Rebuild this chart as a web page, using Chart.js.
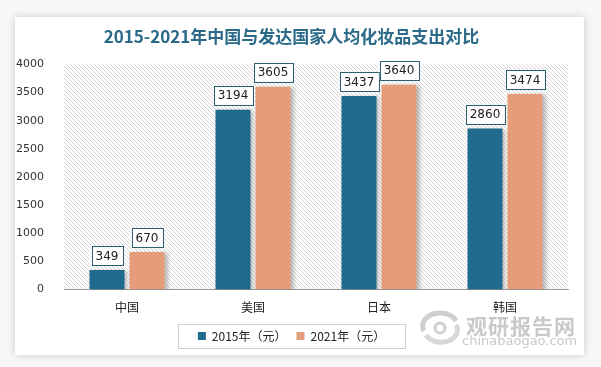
<!DOCTYPE html>
<html>
<head>
<meta charset="utf-8">
<script src="https://cdn.jsdelivr.net/npm/chart.js@4/dist/chart.umd.min.js"></script>
<style>
    html, body { margin: 0; padding: 0; background: #f7f7f7; }
    body { width: 601px; height: 367px; position: relative; overflow: hidden; }
    #card {
        position: absolute; left: 15px; top: 17px; width: 569px; height: 338px;
        background: #fff; box-shadow: 0 0 8px rgba(0,0,0,0.18);
    }
    #chart { display: block; }
    .wm { position: absolute; color: #c9c9c9; font-family: 'Noto Sans CJK SC', sans-serif; }
</style>
</head>
<body>
<div id="card"><canvas id="chart" width="569" height="338"></canvas></div>
<svg class="wm" style="left:418px;top:309px;" width="44" height="36" viewBox="0 0 44 36">
    <path d="M6 22 A16 12 0 0 1 38 12" stroke="#cfcfcf" stroke-width="5" fill="none"/>
    <path d="M38 16 A16 12 0 0 1 8 26" stroke="#d8d8d8" stroke-width="5" fill="none"/>
    <circle cx="22" cy="19" r="5" stroke="#cfcfcf" stroke-width="3" fill="none"/>
</svg>
<div class="wm" style="left:466px;top:310px;font-size:21px;font-weight:bold;letter-spacing:1px;">观研报告网</div>
<div class="wm" style="left:462px;top:333px;font-size:13px;font-family:'DejaVu Sans',sans-serif;">chinabaogao.com</div>
<script>
// 数据
const categories = ['中国', '美国', '日本', '韩国'];
const values2015 = [349, 3194, 3437, 2860];
const values2021 = [670, 3605, 3640, 3474];
const seriesNames = ['2015年（元）', '2021年（元）'];

const colors = ['#1f6a8d', '#e59c7a'];

// 斜线背景
function makeHatch() {
    const c = document.createElement('canvas');
    c.width = 4; c.height = 4;
    const g = c.getContext('2d');
    g.fillStyle = '#fff';
    g.fillRect(0, 0, 4, 4);
    g.strokeStyle = '#d6d6d6';
    g.lineWidth = 1;
    g.beginPath();
    g.moveTo(0, 0); g.lineTo(4, 4);
    g.moveTo(-1, 3); g.lineTo(1, 5);
    g.moveTo(3, -1); g.lineTo(5, 1);
    g.stroke();
    return g.createPattern(c, 'repeat');
}

const hatchBg = {
    id: 'hatchBg',
    beforeDraw(chart) {
        const { ctx, chartArea: a } = chart;
        ctx.save();
        ctx.fillStyle = makeHatch();
        ctx.fillRect(a.left, a.top, a.right - a.left, a.bottom - a.top);
        ctx.restore();
    }
};

// 柱子阴影
const barShadow = {
    id: 'barShadow',
    beforeDatasetDraw(chart) {
        const ctx = chart.ctx;
        ctx.save();
        ctx.shadowColor = 'rgba(0,0,0,0.25)';
        ctx.shadowBlur = 4;
        ctx.shadowOffsetX = 3;
        ctx.shadowOffsetY = 1;
    },
    afterDatasetDraw(chart) {
        chart.ctx.restore();
    }
};

// 数据标签
const valueBoxes = {
    id: 'valueBoxes',
    afterDatasetsDraw(chart) {
        const ctx = chart.ctx;
        ctx.save();
        ctx.font = '12px "DejaVu Sans", sans-serif';
        ctx.textAlign = 'center';
        ctx.textBaseline = 'middle';
        chart.data.datasets.forEach((ds, i) => {
            chart.getDatasetMeta(i).data.forEach((bar, j) => {
                const txt = String(ds.data[j]);
                const w = ctx.measureText(txt).width + 8;
                const h = 19;
                const x = bar.x - w / 2;
                const y = bar.y - 5 - h;
                ctx.fillStyle = '#fff';
                ctx.fillRect(x, y, w, h);
                ctx.strokeStyle = '#2c5f74';
                ctx.lineWidth = 1;
                ctx.strokeRect(Math.round(x) + 0.5, Math.round(y) + 0.5, Math.round(w), h);
                ctx.fillStyle = '#222';
                ctx.fillText(txt, bar.x, y + h / 2 + 1);
            });
        });
        ctx.restore();
    }
};

// 图例边框
const legendBorder = {
    id: 'legendBorder',
    afterDraw(chart) {
        const lg = chart.legend;
        const ctx = chart.ctx;
        ctx.save();
        ctx.strokeStyle = '#d0d0d0';
        ctx.lineWidth = 1;
        const cx = (lg.left + lg.right) / 2;
        const cy = (lg.top + lg.bottom) / 2;
        const w = 227;
        ctx.strokeRect(Math.round(cx - w / 2) + 0.5, Math.round(cy - 12) + 0.5, w, 24);
        ctx.restore();
    }
};

Chart.defaults.font.family = "'Noto Sans CJK SC', sans-serif";
Chart.defaults.color = '#222';

new Chart(document.getElementById('chart'), {
    type: 'bar',
    data: {
        labels: categories,
        datasets: [
            { label: seriesNames[0], data: values2015, backgroundColor: colors[0], borderWidth: 0 },
            { label: seriesNames[1], data: values2021, backgroundColor: colors[1], borderWidth: 0 }
        ]
    },
    options: {
        responsive: false,
        animation: false,
        layout: { padding: { left: 0, right: 16, top: 0, bottom: 3 } },
        categoryPercentage: 0.635,
        barPercentage: 0.875,
        plugins: {
            title: {
                display: true,
                text: '2015-2021年中国与发达国家人均化妆品支出对比',
                color: '#2b6a88',
                font: { size: 17, weight: 'bold', family: "'Noto Sans CJK SC', serif" },
                padding: { top: 9, bottom: 18 }
            },
            legend: {
                position: 'bottom',
                labels: {
                    boxWidth: 8, boxHeight: 8,
                    font: { size: 12 },
                    padding: 10
                }
            },
            tooltip: { enabled: false }
        },
        scales: {
            x: {
                grid: { display: false, drawTicks: false },
                border: { color: '#999' },
                ticks: { font: { size: 12 }, padding: 11, color: '#222' },
                afterFit: s => { s.height -= 6; }
            },
            y: {
                min: 0, max: 4000,
                ticks: {
                    stepSize: 500,
                    callback: v => String(v),
                    font: { size: 11, family: "'DejaVu Sans', sans-serif" },
                    padding: 12, color: '#333'
                },
                grid: { display: false },
                border: { display: false },
                afterFit: s => { s.width = 49; }
            }
        }
    },
    plugins: [hatchBg, barShadow, valueBoxes, legendBorder]
});
</script>
</body>
</html>
